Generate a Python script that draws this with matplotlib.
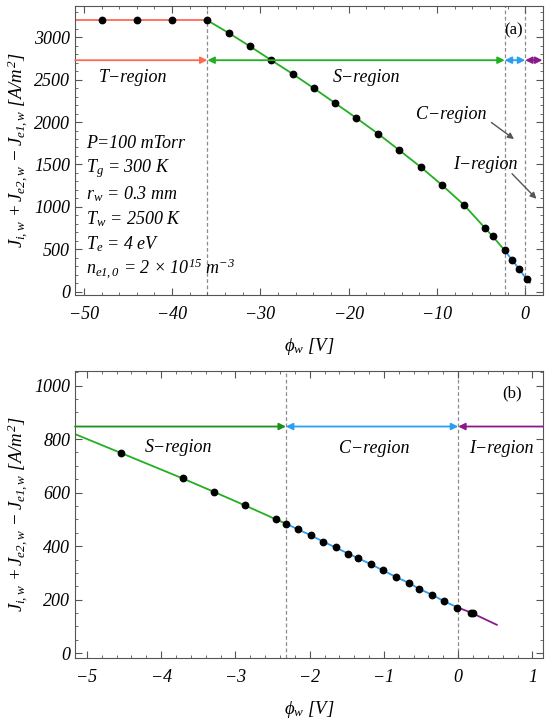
import numpy as np
import matplotlib
matplotlib.use("Agg")
import matplotlib.pyplot as plt
from matplotlib.ticker import MultipleLocator

# ---- data ----
# region boundaries (V)
t_s_edge = -36.0
s_c_edge = -2.32
c_i_edge = 0.0

# model curve, split by region
t_phi = [-52.0, -36.0]
t_j = [3200, 3200]
s_phi = [-36.0, -33.58, -31.17, -28.79, -26.33, -23.92, -21.54, -19.12, -16.67,
         -14.33, -11.83, -9.38, -6.96, -4.54, -3.71, -3.29, -2.87, -2.46, -2.32]
s_j = [3200, 3051, 2893, 2732, 2567, 2397, 2224, 2047, 1862,
       1673, 1469, 1252, 1024, 748, 653, 603, 552, 501, 484]
c_phi = [-2.32, -2.16, -1.98, -1.82, -1.65, -1.48, -1.35, -1.18, -1.01,
         -0.84, -0.66, -0.53, -0.35, -0.19, 0.0]
c_j = [484, 463, 440, 417, 395, 372, 355, 333, 309, 285, 262, 241, 218, 194, 170]
i_phi = [0.0, 0.17, 0.52]
i_j = [170, 152, 106]

# simulation points, panel (a)
dots_a_phi = [-48, -44, -40, -36, -33.58, -31.17, -28.79, -26.33, -23.92, -21.54,
              -19.12, -16.67, -14.33, -11.83, -9.38, -6.96, -4.52, -3.68, -2.32,
              -1.48, -0.68, 0.17]
dots_a_j = [3200, 3200, 3200, 3200, 3051, 2893, 2732, 2567, 2397, 2224,
            2047, 1862, 1673, 1469, 1252, 1024, 755, 660, 484,
            372, 270, 152]

# simulation points, panel (b)
dots_b_phi = [-4.54, -3.71, -3.29, -2.87, -2.46, -2.32, -2.16, -1.98, -1.82, -1.65,
              -1.48, -1.35, -1.18, -1.01, -0.84, -0.66, -0.53, -0.35, -0.19, -0.01,
              0.17, 0.20]
dots_b_j = [748, 653, 603, 552, 501, 484, 463, 440, 417, 395,
            372, 355, 333, 309, 285, 262, 241, 218, 194, 170,
            152, 150]

params = ["P=100 mTorr",
          r"$T_g$ = 300 K",
          r"$r_w$ = 0.3 mm",
          r"$T_w$ = 2500 K",
          r"$T_e$ = 4 eV",
          r"$n_{\mathit{e1,0}}$ = 2 $\times$ $\mathit{10^{15}}$ m$^{\mathit{-3}}$"]

# ---- style ----
plt.rcParams.update({
    "font.family": ["Liberation Serif", "DejaVu Serif"],
    "font.style": "italic",
    "font.size": 13,
    "mathtext.fontset": "custom",
    "mathtext.rm": "Liberation Serif:italic",
    "mathtext.it": "Liberation Serif:italic",
    "mathtext.bf": "Liberation Serif:bold",
    "axes.edgecolor": "#555555",
    "axes.linewidth": 0.8,
    "xtick.direction": "in",
    "ytick.direction": "in",
    "xtick.top": True,
    "ytick.right": True,
    "xtick.color": "#555555",
    "ytick.color": "#555555",
    "xtick.labelcolor": "black",
    "ytick.labelcolor": "black",
    "xtick.major.size": 5,
    "ytick.major.size": 5,
    "xtick.minor.size": 2.5,
    "ytick.minor.size": 2.5,
    "xtick.major.pad": 8,
    "xtick.minor.visible": True,
    "ytick.minor.visible": True,
})

RED = "#ff6a55"
GREEN = "#22b022"
DKGREEN = "#1a8f1a"
BLUE = "#2a9df4"
PURPLE = "#8a1a8a"
DASH = "#8c8c8c"

ylab = r"$J_{i,w}\,+J_{\mathit{e2,w}}\,-J_{\mathit{e1,w}}$ [$A/m^{\mathit{2}}$]"
xlab = r"$\phi_w$ [V]"

fig = plt.figure(figsize=(5.5, 7.21), dpi=100)
ax1 = fig.add_axes([0.1364, 0.591, 0.8506, 0.4007])
ax2 = fig.add_axes([0.1364, 0.087, 0.8506, 0.399])


def arrow(ax, x0, x1, y, color, style):
    ax.annotate("", xy=(x1, y), xytext=(x0, y),
                arrowprops=dict(arrowstyle=style, color=color, lw=1.3,
                                shrinkA=0, shrinkB=0, mutation_scale=10))


# ---- panel (a) ----
xa = (-51.0, 2.0)
ax1.set_xlim(*xa)
ax1.set_ylim(-40, 3370)
for xv in (t_s_edge, s_c_edge, c_i_edge):
    ax1.axvline(xv, color=DASH, lw=0.9, ls=(0, (3, 2)), zorder=1)
ax1.plot(t_phi, t_j, color=RED, lw=1.3, zorder=2)
ax1.plot(s_phi, s_j, color=GREEN, lw=1.3, zorder=2)
ax1.plot(c_phi, c_j, color=BLUE, lw=1.3, zorder=2)
ax1.plot(i_phi, i_j, color=PURPLE, lw=1.3, zorder=2)
ax1.plot(dots_a_phi, dots_a_j, "o", color="black", ms=4.6, zorder=3)

y_arr_a = 2730
arrow(ax1, xa[0], t_s_edge, y_arr_a, RED, "-|>")
arrow(ax1, t_s_edge, s_c_edge, y_arr_a, GREEN, "<|-|>")
arrow(ax1, s_c_edge, c_i_edge, y_arr_a, BLUE, "<|-|>")
arrow(ax1, c_i_edge, 1.95, y_arr_a, PURPLE, "<|-|>")

ax1.text(-44.4, 2520, "T\u2212region", ha="center", va="center", fontsize=13)
ax1.text(-18.0, 2527, "S\u2212region", ha="center", va="center", fontsize=13)
ax1.text(-8.4, 2086, "C\u2212region", ha="center", va="center", fontsize=13)
ax1.text(-4.55, 1504, "I\u2212region", ha="center", va="center", fontsize=13)
ax1.annotate("", xy=(-1.27, 1799), xytext=(-3.83, 1995),
             arrowprops=dict(arrowstyle="-|>", color="#555555", lw=1.0,
                             shrinkA=0, shrinkB=0, mutation_scale=9))
ax1.annotate("", xy=(1.27, 1094), xytext=(-1.49, 1390),
             arrowprops=dict(arrowstyle="-|>", color="#555555", lw=1.0,
                             shrinkA=0, shrinkB=0, mutation_scale=9))
ax1.text(-1.27, 3085, "(a)", ha="center", va="center", fontsize=12, style="normal")

for k, s in enumerate(params):
    ax1.text(-49.8, 1744 - k * 295, s, ha="left", va="center", fontsize=13)

ax1.xaxis.set_major_locator(MultipleLocator(10))
ax1.xaxis.set_minor_locator(MultipleLocator(2))
ax1.yaxis.set_major_locator(MultipleLocator(500))
ax1.yaxis.set_minor_locator(MultipleLocator(100))
ax1.set_xlabel(xlab, fontsize=13.5, labelpad=9)
ax1.set_ylabel(ylab, fontsize=13.5, labelpad=3)

# ---- panel (b) ----
xb = (-5.16, 1.14)
ax2.set_xlim(*xb)
ax2.set_ylim(-19, 1056)
for xv in (s_c_edge, c_i_edge):
    ax2.axvline(xv, color=DASH, lw=0.9, ls=(0, (3, 2)), zorder=1)
ax2.plot(s_phi, s_j, color=GREEN, lw=1.3, zorder=2)
ax2.plot(c_phi, c_j, color=BLUE, lw=1.3, zorder=2)
ax2.plot(i_phi, i_j, color=PURPLE, lw=1.3, zorder=2)
ax2.plot(dots_b_phi, dots_b_j, "o", color="black", ms=4.6, zorder=3)

y_arr_b = 847
arrow(ax2, xb[0], s_c_edge, y_arr_b, DKGREEN, "-|>")
arrow(ax2, s_c_edge, c_i_edge, y_arr_b, BLUE, "<|-|>")
arrow(ax2, xb[1], c_i_edge, y_arr_b, PURPLE, "-|>")

ax2.text(-3.76, 770, "S\u2212region", ha="center", va="center", fontsize=13)
ax2.text(-1.13, 766, "C\u2212region", ha="center", va="center", fontsize=13)
ax2.text(0.575, 766, "I\u2212region", ha="center", va="center", fontsize=13)
ax2.text(0.73, 972, "(b)", ha="center", va="center", fontsize=12, style="normal")

ax2.xaxis.set_major_locator(MultipleLocator(1))
ax2.xaxis.set_minor_locator(MultipleLocator(0.2))
ax2.yaxis.set_major_locator(MultipleLocator(200))
ax2.yaxis.set_minor_locator(MultipleLocator(50))
ax2.set_xlabel(xlab, fontsize=13.5, labelpad=9)
ax2.set_ylabel(ylab, fontsize=13.5, labelpad=3)

fig.savefig("out.png", dpi=100)
